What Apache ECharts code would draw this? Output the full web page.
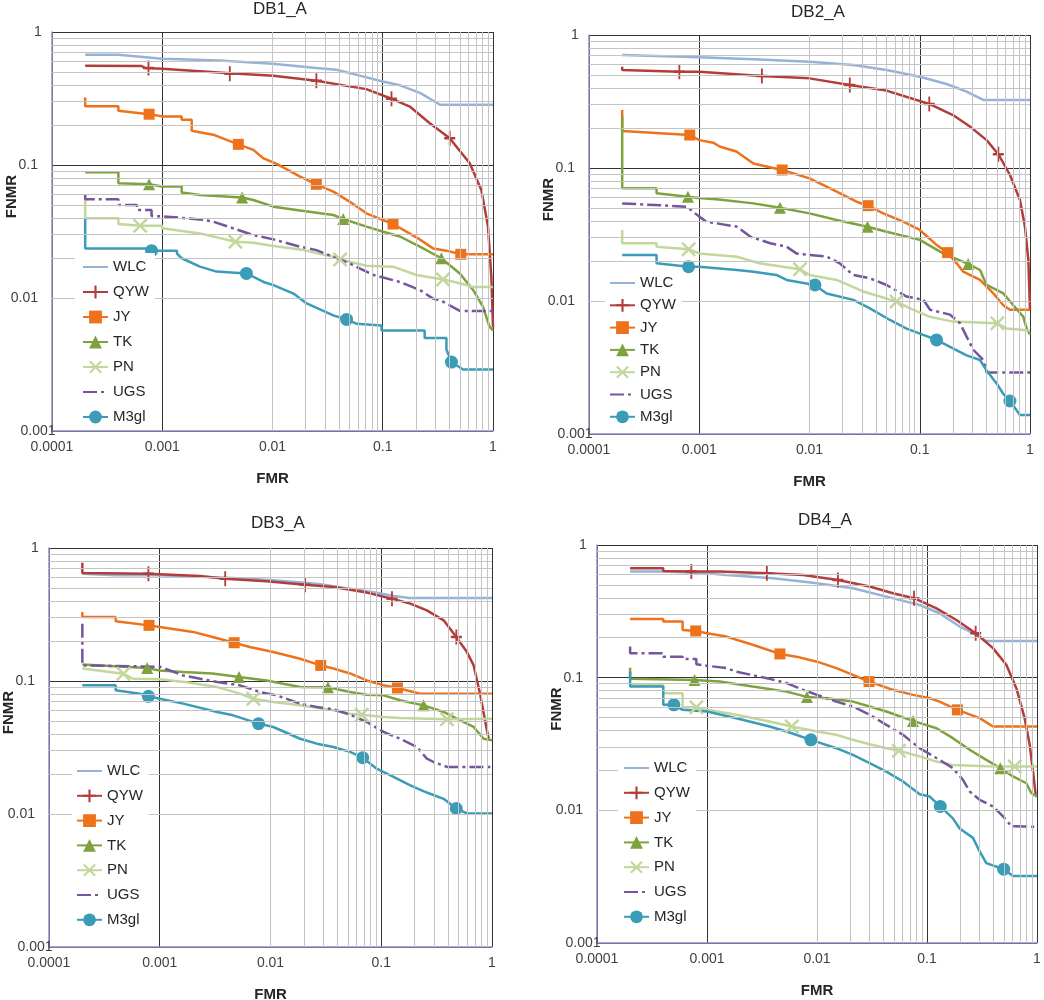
<!DOCTYPE html>
<html>
<head>
<meta charset="utf-8">
<title>FMR / FNMR</title>
<script src="https://cdn.jsdelivr.net/npm/echarts@6.0.0/dist/echarts.min.js"></script>
<style>
html, body { margin: 0; padding: 0; background: #fff; }
#chart { width: 1044px; height: 1000px; }
</style>
</head>
<body>
<div id="chart"></div>
<script>
// names and titles
var seriesNames = ['WLC', 'QYW', 'JY', 'TK', 'PN', 'UGS', 'M3gl'];
var plotTitles = ['DB1_A', 'DB2_A', 'DB3_A', 'DB4_A'];
var fmrRange = [0.0001, 1];
var fnmrRange = [0.001, 1];

// DB1_A  [FMR, FNMR]
var db1WLC = [[2e-4,0.675],[4e-4,0.675],[4e-4,0.655],[1e-3,0.63],[3.3e-3,0.61],[0.01,0.577],[0.025,0.536],[0.038,0.52],[0.062,0.47],[0.1,0.425],[0.14,0.4],[0.22,0.347],[0.33,0.284],[1,0.284]];
var db1QYW = [[2e-4,0.558],[6.5e-4,0.555],[7e-4,0.536],[1e-3,0.53],[4.1e-3,0.49],[0.0102,0.469],[0.025,0.43],[0.05,0.39],[0.071,0.372],[0.12,0.315],[0.176,0.275],[0.267,0.206],[0.405,0.159],[0.615,0.103],[0.784,0.065],[0.901,0.0344],[0.966,0.0144],[1,0.006]];
var db1JY = [[2e-4,0.322],[2e-4,0.276],[4e-4,0.276],[4e-4,0.256],[7.6e-4,0.241],[1e-3,0.232],[1.5e-3,0.232],[1.5e-3,0.219],[1.85e-3,0.219],[1.85e-3,0.181],[2.9e-3,0.169],[4.9e-3,0.143],[6.7e-3,0.13],[8.3e-3,0.112],[0.0109,0.102],[0.0178,0.0818],[0.025,0.0716],[0.0356,0.063],[0.05,0.0531],[0.071,0.0433],[0.124,0.036],[0.202,0.0286],[0.286,0.0236],[0.378,0.0227],[0.51,0.0213],[1,0.0213]];
var db1TK = [[2e-4,0.0882],[4e-4,0.0882],[4e-4,0.0729],[7.6e-4,0.0716],[1e-3,0.0688],[1.5e-3,0.0688],[1.5e-3,0.062],[2.2e-3,0.0595],[5.3e-3,0.0569],[6.7e-3,0.0546],[0.0102,0.0486],[0.0178,0.0454],[0.0356,0.0421],[0.0438,0.0393],[0.0713,0.0344],[0.101,0.0315],[0.143,0.029],[0.217,0.0243],[0.34,0.0199],[0.5,0.0153],[0.66,0.0115],[0.81,0.0086],[0.93,0.0061],[1,0.0057]];
var db1PN = [[2e-4,0.0546],[2e-4,0.0397],[4e-4,0.0397],[4e-4,0.036],[6.3e-4,0.035],[1e-3,0.035],[1e-3,0.0334],[2.2e-3,0.0306],[4.6e-3,0.0265],[6.7e-3,0.026],[0.0102,0.0246],[0.0178,0.0232],[0.0356,0.0204],[0.041,0.0195],[0.071,0.0175],[0.124,0.0172],[0.202,0.0149],[0.352,0.0138],[0.5,0.0129],[0.66,0.0121],[1,0.0121]];
var db1UGS = [[2e-4,0.0596],[2e-4,0.0552],[4e-4,0.0552],[4e-4,0.05],[5.9e-4,0.05],[5.9e-4,0.0459],[8e-4,0.0459],[8e-4,0.0414],[1.1e-3,0.0409],[2.2e-3,0.039],[2.9e-3,0.0375],[4.4e-3,0.0334],[6.7e-3,0.0297],[0.0102,0.0276],[0.0178,0.0243],[0.025,0.0229],[0.0356,0.0204],[0.05,0.0182],[0.082,0.0149],[0.143,0.0132],[0.217,0.0115],[0.286,0.0099],[0.352,0.0094],[0.5,0.008],[1,0.008]];
var db1M3gl = [[2e-4,0.0397],[2e-4,0.0236],[8e-4,0.0236],[8e-4,0.0227],[1.36e-3,0.0227],[1.36e-3,0.0216],[1.5e-3,0.0199],[2.2e-3,0.0172],[3.1e-3,0.0158],[5.8e-3,0.0153],[8.3e-3,0.0132],[0.0102,0.0125],[0.0155,0.0108],[0.0204,0.0091],[0.0356,0.0074],[0.047,0.0069],[0.058,0.0064],[0.0975,0.0062],[0.0975,0.0057],[0.24,0.0057],[0.24,0.005],[0.378,0.005],[0.378,0.0041],[0.42,0.0033],[0.535,0.0029],[1,0.0029]];
var db1QYWmk = [[7.5e-4,0.536],[4.1e-3,0.486],[0.025,0.43],[0.12,0.315],[0.405,0.159]];
var db1JYmk = [[7.6e-4,0.241],[4.9e-3,0.143],[0.025,0.0716],[0.124,0.036],[0.51,0.0213]];
var db1TKmk = [[7.6e-4,0.0716],[5.3e-3,0.0569],[0.0438,0.0393],[0.34,0.0199]];
var db1PNmk = [[6.3e-4,0.035],[4.6e-3,0.0265],[0.041,0.0195],[0.352,0.0138]];
var db1M3glmk = [[8e-4,0.0227],[5.8e-3,0.0153],[0.047,0.0069],[0.42,0.0033]];

// DB2_A
var db2WLC = [[2e-4,0.707],[1e-3,0.679],[3.1e-3,0.656],[0.01,0.63],[0.025,0.595],[0.05,0.545],[0.1,0.486],[0.175,0.428],[0.266,0.375],[0.377,0.325],[1,0.325]];
var db2QYW = [[2e-4,0.578],[2e-4,0.545],[6.6e-4,0.53],[1e-3,0.53],[3.7e-3,0.492],[0.01,0.472],[0.0232,0.421],[0.05,0.382],[0.122,0.303],[0.2,0.25],[0.285,0.205],[0.404,0.162],[0.516,0.127],[0.658,0.0886],[0.811,0.0575],[0.9,0.0362],[0.966,0.0203],[1,0.0086]];
var db2JY = [[2e-4,0.273],[2e-4,0.19],[8.2e-4,0.177],[1e-3,0.162],[1.34e-3,0.155],[1.53e-3,0.145],[2.17e-3,0.133],[3.1e-3,0.108],[3.8e-3,0.104],[5.65e-3,0.0966],[0.01,0.0836],[0.0143,0.0724],[0.0217,0.0609],[0.0267,0.0558],[0.034,0.0521],[0.0466,0.0456],[0.0708,0.0395],[0.1,0.0342],[0.142,0.0264],[0.179,0.0231],[0.216,0.0192],[0.248,0.0166],[0.352,0.0144],[0.465,0.0114],[0.573,0.0093],[0.658,0.0086],[1,0.0086]];
var db2TK = [[2e-4,0.243],[2e-4,0.0703],[4.1e-4,0.0703],[4.1e-4,0.0645],[7.9e-4,0.0609],[1e-3,0.0594],[1.5e-3,0.058],[3.1e-3,0.0542],[5.4e-3,0.0503],[0.01,0.0456],[0.0176,0.0406],[0.0336,0.0362],[0.05,0.0332],[0.1,0.0288],[0.163,0.0228],[0.275,0.019],[0.352,0.0171],[0.404,0.0132],[0.573,0.0114],[0.706,0.0093],[0.87,0.0076],[0.933,0.0062],[1,0.0056]];
var db2PN = [[2e-4,0.0342],[2e-4,0.0272],[4.1e-4,0.0272],[4.1e-4,0.0256],[8e-4,0.0245],[1e-3,0.0228],[2.2e-3,0.0215],[3.5e-3,0.0192],[8.2e-3,0.0173],[0.01,0.0157],[0.0176,0.0144],[0.0307,0.0118],[0.0435,0.0108],[0.0616,0.0099],[0.0815,0.0088],[0.124,0.0076],[0.2,0.007],[0.505,0.0068],[0.614,0.0062],[1,0.006]];
var db2UGS = [[2e-4,0.0542],[7.7e-4,0.0512],[1e-3,0.0431],[1.16e-3,0.0395],[2.2e-3,0.0362],[2.9e-3,0.0305],[4.4e-3,0.0272],[6.2e-3,0.0256],[7.6e-3,0.0228],[0.01,0.0222],[0.0143,0.0216],[0.0188,0.0192],[0.0249,0.0157],[0.0353,0.0148],[0.05,0.0132],[0.076,0.0108],[0.108,0.0102],[0.124,0.0086],[0.188,0.0079],[0.232,0.0068],[0.266,0.0054],[0.306,0.0043],[0.377,0.0036],[0.404,0.0029],[1,0.0029]];
var db2M3gl = [[2e-4,0.0222],[4.1e-4,0.0222],[4.1e-4,0.0192],[8e-4,0.0181],[1e-3,0.0181],[2.2e-3,0.0171],[3.1e-3,0.0166],[5e-3,0.0157],[6.2e-3,0.0144],[0.0112,0.0132],[0.0143,0.0114],[0.025,0.0102],[0.0353,0.0088],[0.0536,0.0072],[0.076,0.0062],[0.142,0.0051],[0.2,0.0044],[0.266,0.0039],[0.352,0.0036],[0.404,0.003],[0.498,0.0024],[0.573,0.002],[0.658,0.00177],[0.811,0.00139],[1,0.00139]];
var db2QYWmk = [[6.6e-4,0.53],[3.7e-3,0.492],[0.0232,0.421],[0.122,0.303],[0.516,0.127]];
var db2JYmk = [[8.2e-4,0.177],[5.65e-3,0.0966],[0.034,0.0521],[0.179,0.0231]];
var db2TKmk = [[7.9e-4,0.0609],[5.4e-3,0.0503],[0.0336,0.0362],[0.275,0.019]];
var db2PNmk = [[8e-4,0.0245],[8.2e-3,0.0173],[0.0616,0.0099],[0.505,0.0068]];
var db2M3glmk = [[8e-4,0.0181],[0.0112,0.0132],[0.142,0.0051],[0.658,0.00177]];

// DB3_A
var db3WLC = [[2e-4,0.641],[4e-4,0.623],[1e-3,0.623],[4.6e-3,0.595],[0.0106,0.571],[0.0262,0.539],[0.0523,0.494],[0.091,0.461],[0.129,0.436],[0.18,0.421],[1,0.421]];
var db3QYW = [[2e-4,0.776],[2e-4,0.649],[7.9e-4,0.641],[1e-3,0.636],[2.3e-3,0.616],[3.9e-3,0.588],[9.2e-3,0.562],[0.0205,0.53],[0.037,0.509],[0.074,0.462],[0.125,0.416],[0.183,0.382],[0.258,0.34],[0.366,0.286],[0.476,0.214],[0.594,0.165],[0.683,0.131],[0.785,0.078],[0.871,0.049],[0.933,0.0368]];
var db3JY = [[2e-4,0.33],[2e-4,0.303],[4e-4,0.303],[4e-4,0.281],[8e-4,0.262],[1e-3,0.255],[2e-3,0.234],[3e-3,0.214],[4.7e-3,0.194],[6.5e-3,0.18],[0.0106,0.165],[0.0185,0.147],[0.0284,0.131],[0.037,0.124],[0.0523,0.114],[0.074,0.101],[0.105,0.093],[0.14,0.0886],[0.225,0.0803],[1,0.0803]];
var db3TK = [[2e-4,0.133],[7.7e-4,0.125],[1e-3,0.12],[1.63e-3,0.117],[3e-3,0.114],[5.2e-3,0.107],[9.2e-3,0.101],[0.013,0.0955],[0.0185,0.09],[0.033,0.0896],[0.0523,0.0827],[0.074,0.0789],[0.105,0.078],[0.148,0.0716],[0.241,0.0656],[0.366,0.0585],[0.517,0.0506],[0.683,0.0451],[0.84,0.0368],[1,0.0358]];
var db3PN = [[2e-4,0.124],[4.7e-4,0.1136],[5.75e-4,0.104],[1e-3,0.103],[1.75e-3,0.098],[3.3e-3,0.09],[5.3e-3,0.0803],[7e-3,0.0736],[0.0106,0.0695],[0.0185,0.0656],[0.037,0.0602],[0.0523,0.0568],[0.0667,0.0558],[0.105,0.0536],[0.148,0.0528],[0.392,0.0515],[1,0.052]];
var db3UGS = [[2e-4,0.27],[2e-4,0.131],[1e-3,0.128],[1.63e-3,0.11],[3.3e-3,0.0983],[5.3e-3,0.0928],[8e-3,0.0827],[0.0114,0.078],[0.0185,0.0676],[0.0262,0.0638],[0.037,0.0612],[0.0523,0.0558],[0.074,0.0492],[0.105,0.0414],[0.148,0.0368],[0.21,0.0319],[0.258,0.0261],[0.297,0.0246],[0.392,0.0226],[1,0.0226]];
var db3M3gl = [[2e-4,0.0928],[4e-4,0.0928],[4e-4,0.0851],[6.6e-4,0.0803],[7.9e-4,0.0767],[1e-3,0.0736],[1.63e-3,0.0676],[3.3e-3,0.0585],[4.6e-3,0.0552],[7.8e-3,0.0478],[0.0106,0.0451],[0.0185,0.0368],[0.0262,0.0338],[0.037,0.0319],[0.0523,0.0293],[0.068,0.0265],[0.091,0.0219],[0.129,0.019],[0.183,0.0164],[0.258,0.0145],[0.366,0.013],[0.476,0.011],[0.594,0.0101],[1,0.0101]];
var db3QYWmk = [[7.9e-4,0.641],[3.9e-3,0.588],[0.0205,0.53],[0.125,0.416],[0.476,0.214]];
var db3JYmk = [[8e-4,0.262],[4.7e-3,0.194],[0.0284,0.131],[0.14,0.0886]];
var db3TKmk = [[7.7e-4,0.125],[5.2e-3,0.107],[0.033,0.0896],[0.241,0.0656]];
var db3PNmk = [[4.7e-4,0.1136],[7e-3,0.0736],[0.0667,0.0558],[0.392,0.0515]];
var db3M3glmk = [[7.9e-4,0.0767],[7.8e-3,0.0478],[0.068,0.0265],[0.476,0.011]];

// DB4_A
var db4WLC = [[2e-4,0.63],[4e-4,0.63],[1e-3,0.612],[1.5e-3,0.594],[4e-3,0.561],[0.01,0.514],[0.0212,0.472],[0.0427,0.408],[0.0858,0.353],[0.13,0.306],[0.198,0.243],[0.244,0.223],[0.346,0.189],[1,0.189]];
var db4QYW = [[2e-4,0.667],[4e-4,0.667],[4e-4,0.637],[7.2e-4,0.63],[1.3e-3,0.63],[3.5e-3,0.612],[7.5e-3,0.594],[0.0155,0.545],[0.0301,0.486],[0.049,0.433],[0.0762,0.397],[0.122,0.333],[0.185,0.272],[0.277,0.216],[0.398,0.167],[0.526,0.125],[0.649,0.0833],[0.772,0.0495],[0.858,0.0312],[0.92,0.0196],[0.973,0.0131]];
var db4JY = [[2e-4,0.277],[4e-4,0.277],[4e-4,0.265],[6e-4,0.265],[6e-4,0.229],[7.9e-4,0.225],[1e-3,0.216],[1.5e-3,0.204],[2.6e-3,0.177],[4.6e-3,0.151],[6.5e-3,0.144],[0.01,0.132],[0.015,0.118],[0.0212,0.105],[0.0297,0.0935],[0.049,0.081],[0.0746,0.0742],[0.106,0.07],[0.13,0.066],[0.189,0.0572],[0.301,0.0495],[0.398,0.0428],[1,0.0428]];
var db4TK = [[2e-4,0.119],[2e-4,0.098],[7.7e-4,0.0962],[1.3e-3,0.0935],[2.6e-3,0.0857],[5.3e-3,0.0785],[8.1e-3,0.0716],[0.0122,0.07],[0.0212,0.066],[0.0301,0.0606],[0.0427,0.0556],[0.0746,0.0472],[0.122,0.0416],[0.172,0.035],[0.244,0.0286],[0.346,0.024],[0.464,0.0208],[0.605,0.018],[0.8,0.016],[0.887,0.0135],[1,0.0127]];
var db4PN = [[2e-4,0.0882],[4e-4,0.0882],[4e-4,0.0763],[6e-4,0.0763],[6e-4,0.0599],[8e-4,0.0599],[1e-3,0.0572],[1.85e-3,0.0525],[3.7e-3,0.0467],[5.9e-3,0.0428],[0.01,0.0393],[0.015,0.0371],[0.0212,0.034],[0.0301,0.0315],[0.0427,0.0294],[0.0556,0.0281],[0.0858,0.0255],[0.122,0.0233],[0.172,0.022],[0.346,0.0215],[0.627,0.0214],[1,0.0214]];
var db4UGS = [[2e-4,0.1715],[2e-4,0.153],[4e-4,0.153],[4e-4,0.144],[6e-4,0.144],[6e-4,0.138],[8e-4,0.138],[8e-4,0.126],[1e-3,0.123],[1.5e-3,0.118],[1.85e-3,0.111],[3.7e-3,0.098],[5.3e-3,0.091],[7.5e-3,0.081],[0.01,0.0742],[0.015,0.066],[0.0212,0.0606],[0.0301,0.0525],[0.0427,0.0441],[0.0605,0.0371],[0.0858,0.0294],[0.13,0.024],[0.172,0.0208],[0.212,0.017],[0.244,0.0139],[0.301,0.012],[0.398,0.0107],[0.491,0.009],[0.585,0.0076],[1,0.0075]];
var db4M3gl = [[2e-4,0.111],[2e-4,0.0857],[4e-4,0.0857],[4e-4,0.0624],[5e-4,0.0624],[6e-4,0.0572],[1e-3,0.0556],[1.85e-3,0.0495],[3.7e-3,0.0428],[5.3e-3,0.0393],[8.8e-3,0.034],[0.015,0.0294],[0.0212,0.0262],[0.0301,0.0227],[0.0427,0.0196],[0.0605,0.0165],[0.0858,0.0132],[0.106,0.0127],[0.132,0.0107],[0.172,0.0087],[0.198,0.0073],[0.262,0.0062],[0.301,0.0049],[0.346,0.004],[0.498,0.0036],[0.605,0.0032],[1,0.0032]];
var db4QYWmk = [[7.2e-4,0.63],[3.5e-3,0.612],[0.0155,0.545],[0.0762,0.397],[0.277,0.216]];
var db4JYmk = [[7.9e-4,0.225],[4.6e-3,0.151],[0.0297,0.0935],[0.189,0.0572]];
var db4TKmk = [[7.7e-4,0.0962],[8.1e-3,0.0716],[0.0746,0.0472],[0.464,0.0208]];
var db4PNmk = [[8e-4,0.0599],[5.9e-3,0.0428],[0.0556,0.0281],[0.627,0.0214]];
var db4M3glmk = [[5e-4,0.0624],[8.8e-3,0.034],[0.132,0.0107],[0.498,0.0036]];

var curves = [
    [db1WLC, db1QYW, db1JY, db1TK, db1PN, db1UGS, db1M3gl],
    [db2WLC, db2QYW, db2JY, db2TK, db2PN, db2UGS, db2M3gl],
    [db3WLC, db3QYW, db3JY, db3TK, db3PN, db3UGS, db3M3gl],
    [db4WLC, db4QYW, db4JY, db4TK, db4PN, db4UGS, db4M3gl]
];
var markers = [
    [null, db1QYWmk, db1JYmk, db1TKmk, db1PNmk, null, db1M3glmk],
    [null, db2QYWmk, db2JYmk, db2TKmk, db2PNmk, null, db2M3glmk],
    [null, db3QYWmk, db3JYmk, db3TKmk, db3PNmk, null, db3M3glmk],
    [null, db4QYWmk, db4JYmk, db4TKmk, db4PNmk, null, db4M3glmk]
];

// layout (px)
var gridBox = [
    {left: 52, top: 32, width: 441, height: 399},
    {left: 589, top: 35, width: 441, height: 399},
    {left: 49, top: 548, width: 443, height: 399},
    {left: 597, top: 545, width: 440, height: 398}
];
var titlePos = [[280, 1], [818, 4], [278, 515], [825, 512]];
var legendBox = [
    {left: 75, top: 253, gap: 9, pad: [6, 6, 5, 7]},
    {left: 605, top: 273, gap: 6.3, pad: [2, 6, 4, 4]},
    {left: 72, top: 758, gap: 8.8, pad: [5, 6, 5, 4]},
    {left: 618, top: 757, gap: 8.8, pad: [3, 6, 5, 5]}
];

// styles
var FONT = 'Liberation Sans, Arial, sans-serif';
var colors = ['#95B3D7', '#B33D3B', '#EE7219', '#7EA23D', '#C2D79A', '#75559C', '#3A9CB7'];
var plusPath = 'path://M5,0 L7,0 L7,5 L12,5 L12,7 L7,7 L7,12 L5,12 L5,7 L0,7 L0,5 L5,5 Z';
var crossPath = 'path://M0,1.4 L1.4,0 L6,4.6 L10.6,0 L12,1.4 L7.4,6 L12,10.6 L10.6,12 L6,7.4 L1.4,12 L0,10.6 L4.6,6 Z';
var symbols = ['circle', plusPath, 'rect', 'triangle', crossPath, 'circle', 'circle'];
var symbolSizes = [0, [11, 15], 11, 12, 15, 0, 13];
var dashTypes = ['solid', 'solid', 'solid', 'solid', 'solid', [14, 4, 3, 4], 'solid'];

// minor grid positions (2..9 of each decade)
function minorValues(lo, hi) {
    var out = [];
    for (var e = lo; e < hi; e++) {
        for (var k = 2; k <= 9; k++) out.push(+(k * Math.pow(10, e)).toPrecision(2));
    }
    return out;
}
var minorX = minorValues(-4, 0);
var minorY = minorValues(-3, 0);

function tickLabel(v) {
    return String(+Number(v).toPrecision(1));
}

var chart = echarts.init(document.getElementById('chart'));

var grids = [], xAxes = [], yAxes = [], titles = [], legends = [], series = [];
for (var p = 0; p < 4; p++) {
    grids.push({left: gridBox[p].left, top: gridBox[p].top, width: gridBox[p].width, height: gridBox[p].height,
        containLabel: false, outerBoundsMode: 'none'});
    xAxes.push({
        type: 'log', logBase: 10, gridIndex: p, min: fmrRange[0], max: fmrRange[1],
        name: 'FMR', nameLocation: 'middle', nameGap: 40, nameMoveOverlap: false,
        nameTextStyle: {fontFamily: FONT, fontSize: 15, fontWeight: 'bold', color: '#262626'},
        axisLine: {show: true, lineStyle: {color: '#8C8FC6', width: 1.5}},
        axisTick: {show: false},
        axisLabel: {fontFamily: FONT, fontSize: 14, color: '#404040', margin: 9, formatter: tickLabel,
            alignMinLabel: 'center', alignMaxLabel: 'center'},
        splitLine: {show: true, lineStyle: {color: '#333333', width: 1}}
    });
    yAxes.push({
        type: 'log', logBase: 10, gridIndex: p, min: fnmrRange[0], max: fnmrRange[1],
        name: 'FNMR', nameLocation: 'middle', nameGap: 33, nameMoveOverlap: false,
        nameTextStyle: {fontFamily: FONT, fontSize: 15, fontWeight: 'bold', color: '#262626', padding: [0, 0, 0, 70]},
        axisLine: {show: true, lineStyle: {color: '#8C8FC6', width: 1.5}},
        axisTick: {show: false},
        axisLabel: {fontFamily: FONT, fontSize: 14, color: '#404040', margin: 14, formatter: tickLabel,
            alignMinLabel: 'center', alignMaxLabel: 'center'},
        splitLine: {show: true, lineStyle: {color: '#333333', width: 1}}
    });
    titles.push({
        text: plotTitles[p], left: titlePos[p][0], top: titlePos[p][1], textAlign: 'center', padding: 0,
        textStyle: {fontFamily: FONT, fontSize: 17, fontWeight: 'normal', color: '#262626'}
    });
    legends.push({
        orient: 'vertical', left: legendBox[p].left, top: legendBox[p].top, z: 20,
        padding: legendBox[p].pad, itemGap: legendBox[p].gap, itemWidth: 25, itemHeight: 16,
        backgroundColor: '#ffffff', borderWidth: 0, selectedMode: false,
        textStyle: {fontFamily: FONT, fontSize: 15, color: '#262626', lineHeight: 16},
        data: seriesNames.map(function (n, i) {
            return symbolSizes[i] ? {name: n} : {name: n, itemStyle: {opacity: 0}};
        })
    });

    // light minor grid drawn through the axes
    series.push({
        type: 'line', xAxisIndex: p, yAxisIndex: p, data: [], silent: true, z: 1,
        markLine: {
            silent: true, symbol: ['none', 'none'], animation: false,
            label: {show: false},
            lineStyle: {color: '#c4c4c4', width: 1, type: 'solid'},
            emphasis: {disabled: true},
            data: minorX.map(function (v) { return {xAxis: v}; })
                .concat(minorY.map(function (v) { return {yAxis: v}; }))
        }
    });

    for (var s = 0; s < seriesNames.length; s++) {
        series.push({
            name: seriesNames[s], type: 'line', xAxisIndex: p, yAxisIndex: p,
            data: curves[p][s], showSymbol: false, symbol: symbols[s], symbolSize: symbolSizes[s] || 8,
            lineStyle: {color: colors[s], width: 2.5, type: dashTypes[s]},
            itemStyle: {color: colors[s]},
            emphasis: {disabled: true}, z: 3
        });
        if (markers[p][s]) {
            series.push({
                name: seriesNames[s], type: 'scatter', xAxisIndex: p, yAxisIndex: p,
                data: markers[p][s], symbol: symbols[s], symbolSize: symbolSizes[s],
                itemStyle: {color: colors[s], opacity: 1},
                emphasis: {disabled: true}, z: 4
            });
        }
    }
}

chart.setOption({
    animation: false,
    backgroundColor: '#ffffff',
    textStyle: {fontFamily: FONT},
    title: titles,
    legend: legends,
    grid: grids,
    xAxis: xAxes,
    yAxis: yAxes,
    series: series
});
</script>
</body>
</html>
